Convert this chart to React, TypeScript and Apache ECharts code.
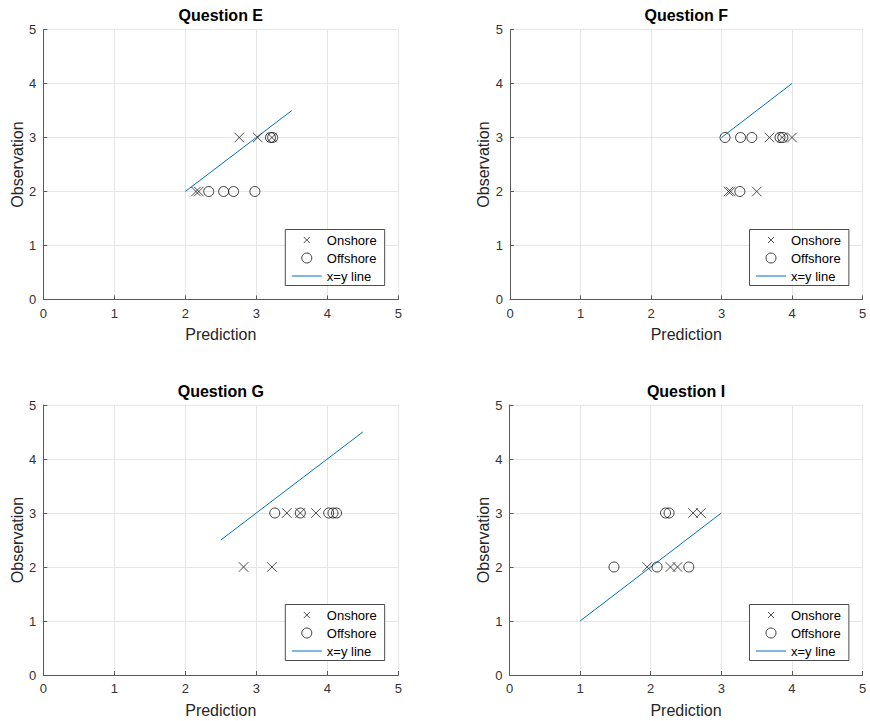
import { useEffect, useRef } from "react";
import * as echarts from "echarts";

// Shared axis range for every panel (prediction and observation scores)
const AXIS_MIN = 0;
const AXIS_MAX = 5;
const AXIS_STEP = 1;

const PANEL_TITLES = ["Question E", "Question F", "Question G", "Question I"];
const SERIES_NAMES = ["Onshore", "Offshore", "x=y line"];
const X_NAME = "Prediction";
const Y_NAME = "Observation";

// Points are [prediction, observation]
const onshoreE = [[2.15, 2], [2.19, 2], [2.76, 3], [3.02, 3], [3.22, 3]];
const offshoreE = [[2.33, 2], [2.54, 2], [2.68, 2], [2.98, 2], [3.2, 3], [3.23, 3]];
const lineE = [[2, 2], [3.5, 3.5]];

const onshoreF = [[3.1, 2], [3.13, 2], [3.5, 2], [3.68, 3], [3.86, 3], [4.0, 3]];
const offshoreF = [[3.26, 2], [3.05, 3], [3.27, 3], [3.43, 3], [3.83, 3], [3.87, 3]];
const lineF = [[3, 3], [4, 4]];

const onshoreG = [[2.82, 2], [3.22, 2], [3.43, 3], [3.62, 3], [3.84, 3]];
const offshoreG = [[3.26, 3], [3.62, 3], [4.02, 3], [4.08, 3], [4.13, 3]];
const lineG = [[2.5, 2.5], [4.5, 4.5]];

const onshoreI = [[1.95, 2], [2.28, 2], [2.38, 2], [2.6, 3], [2.71, 3]];
const offshoreI = [[1.48, 2], [2.09, 2], [2.54, 2], [2.21, 3], [2.26, 3]];
const lineI = [[1, 1], [3, 3]];

const FONT = "Liberation Sans, Arial, Helvetica, sans-serif";
const AXIS_COLOR = "#5a5a5a";
const GRID_COLOR = "#e6e6e6";
const LINE_COLOR = "#0072BD";

// Cross marker drawn as an open path; the leading moves pad its box so the
// legend icon comes out smaller than the plotted marker.
const CROSS = "path://M0,0M10,10M2,2L8,8M8,2L2,8";

const PLOT_HEIGHT = 270;

export default function App() {
  const ref = useRef<HTMLDivElement | null>(null);

  useEffect(() => {
    if (!ref.current) return;
    const chart = echarts.init(ref.current, undefined, { renderer: "svg" });

    const panels = [
      { title: PANEL_TITLES[0], onshore: onshoreE, offshore: offshoreE, line: lineE, left: 43.3, top: 29.5, width: 355 },
      { title: PANEL_TITLES[1], onshore: onshoreF, offshore: offshoreF, line: lineF, left: 510, top: 29.5, width: 352.5 },
      { title: PANEL_TITLES[2], onshore: onshoreG, offshore: offshoreG, line: lineG, left: 43.3, top: 405, width: 355 },
      { title: PANEL_TITLES[3], onshore: onshoreI, offshore: offshoreI, line: lineI, left: 509.5, top: 405, width: 353 },
    ];

    const axisCommon = {
      type: "value" as const,
      min: AXIS_MIN,
      max: AXIS_MAX,
      interval: AXIS_STEP,
      nameLocation: "middle" as const,
      nameTextStyle: { fontSize: 16, color: "#262626", fontFamily: FONT },
      axisLine: { show: true, onZero: false, lineStyle: { color: AXIS_COLOR, width: 1 } },
      axisTick: { show: true, inside: true, length: 4, lineStyle: { color: AXIS_COLOR } },
      axisLabel: { margin: 7, fontSize: 13, color: "#333", fontFamily: FONT },
      splitLine: { show: true, lineStyle: { color: GRID_COLOR, width: 1 } },
    };

    const series: any[] = [];
    panels.forEach((p, i) => {
      series.push({
        type: "line",
        name: SERIES_NAMES[2],
        xAxisIndex: i,
        yAxisIndex: i,
        data: p.line,
        symbol: "none",
        color: LINE_COLOR,
        lineStyle: { color: LINE_COLOR, width: 1 },
        itemStyle: { color: LINE_COLOR },
        z: 1,
      });
      series.push({
        type: "scatter",
        name: SERIES_NAMES[0],
        xAxisIndex: i,
        yAxisIndex: i,
        data: p.onshore,
        symbol: CROSS,
        symbolSize: 16,
        itemStyle: { color: "transparent", borderColor: "#222", borderWidth: 1 },
        z: 3,
      });
      series.push({
        type: "scatter",
        name: SERIES_NAMES[1],
        xAxisIndex: i,
        yAxisIndex: i,
        data: p.offshore,
        symbol: "circle",
        symbolSize: 10,
        itemStyle: { color: "transparent", borderColor: "#111", borderWidth: 1 },
        z: 3,
      });
    });

    chart.setOption({
      animation: false,
      backgroundColor: "#fff",
      title: panels.map((p) => ({
        text: p.title,
        left: p.left + p.width / 2,
        top: p.top - 22,
        textAlign: "center",
        textVerticalAlign: "top",
        padding: 0,
        textStyle: { fontSize: 16, fontWeight: "bold", color: "#000", fontFamily: FONT },
      })),
      grid: panels.map((p) => ({
        left: p.left,
        top: p.top,
        width: p.width,
        height: PLOT_HEIGHT,
        containLabel: false,
      })),
      xAxis: panels.map((_, i) => ({ ...axisCommon, gridIndex: i, name: X_NAME, nameGap: 27 })),
      yAxis: panels.map((_, i) => ({ ...axisCommon, gridIndex: i, name: Y_NAME, nameGap: 17 })),
      legend: panels.map((p) => ({
        left: p.left + p.width - 113,
        top: Math.floor(p.top + 199.5) + 0.5,
        orient: "vertical",
        selectedMode: false,
        padding: [4, 8, 3, 6],
        itemGap: 5,
        itemWidth: 30,
        itemHeight: 10,
        borderColor: "#4d4d4d",
        borderWidth: 1,
        backgroundColor: "#fff",
        itemStyle: { borderWidth: 1 },
        textStyle: { fontSize: 13, color: "#000", fontFamily: FONT },
        data: [
          { name: SERIES_NAMES[0] },
          { name: SERIES_NAMES[1] },
          {
            name: SERIES_NAMES[2],
            itemStyle: { opacity: 0 },
            lineStyle: { color: LINE_COLOR, width: 1 },
          },
        ],
      })),
      series,
    });

    return () => {
      chart.dispose();
    };
  }, []);

  return (
    <div
      ref={ref}
      style={{ position: "fixed", left: 0, top: 0, width: 870, height: 721, background: "#fff" }}
    />
  );
}
